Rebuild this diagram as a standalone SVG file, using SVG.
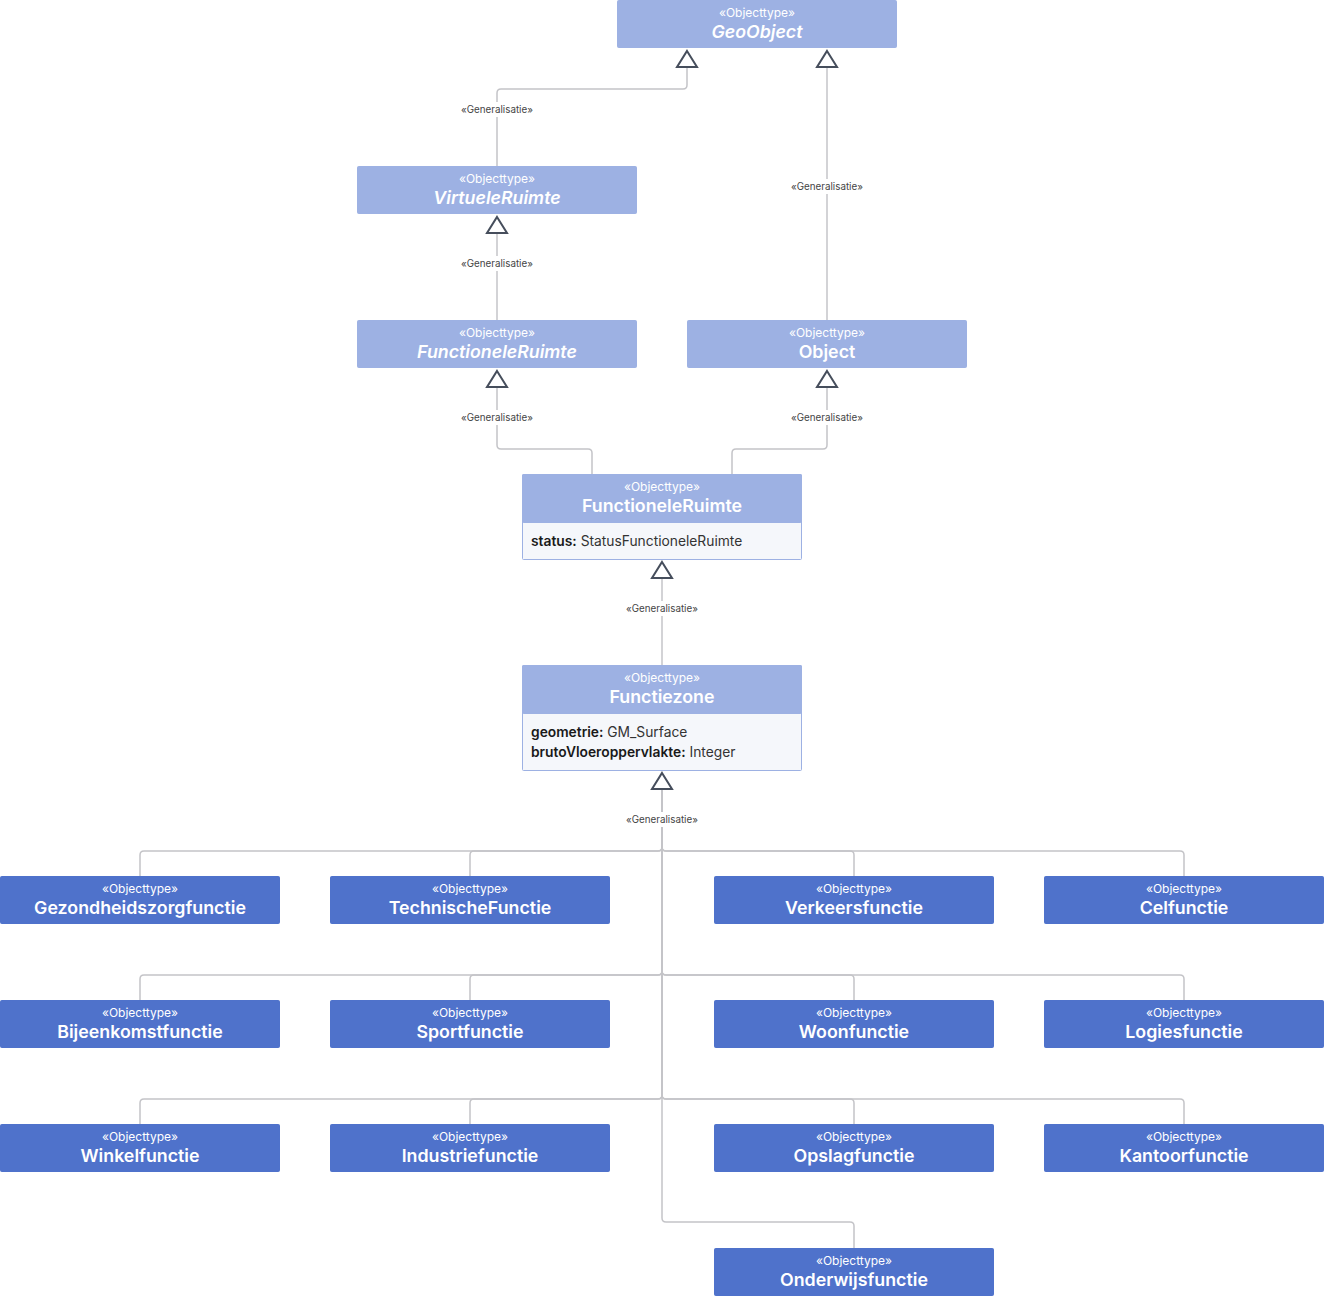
<svg xmlns="http://www.w3.org/2000/svg" width="1324" height="1297" viewBox="0 0 1324 1297">
<style>
.hl{fill:#9DB1E3;stroke:#9DB1E3;stroke-width:1}
.hd{fill:#4F72CB;stroke:#4F72CB;stroke-width:1}
.body{fill:#F5F7FB;stroke:#9DB1E3;stroke-width:1}
.st{font-family:Inter,"Liberation Sans",sans-serif;font-size:12px;fill:#fff;text-anchor:middle}
.nm{font-family:Inter,"Liberation Sans",sans-serif;font-size:17.8px;font-weight:600;fill:#fff;text-anchor:middle}
.it{font-style:italic}
.at{font-family:Inter,"Liberation Sans",sans-serif;font-size:13.8px;fill:#333}
.at tspan.b{font-weight:600;fill:#1a1a1a}
.ln{fill:none;stroke:#C4C4C8;stroke-width:1.5}
.tri{fill:#fff;stroke:#464E5C;stroke-width:2;stroke-linejoin:miter}
.lb{font-family:Inter,"Liberation Sans",sans-serif;font-size:9.8px;fill:#444;text-anchor:middle}
.lbg{fill:#fff}
</style>
<rect width="1324" height="1297" fill="#fff"/>
<g id="connectors">
  <path class="ln" d="M687,67 V85 Q687,89 683,89 H501 Q497,89 497,93 V166"/>
  <path class="ln" d="M827,67 V320"/>
  <path class="ln" d="M497,233 V320"/>
  <path class="ln" d="M497,387 V445 Q497,449 501,449 H588 Q592,449 592,453 V474"/>
  <path class="ln" d="M827,387 V445 Q827,449 823,449 H736 Q732,449 732,453 V474"/>
  <path class="ln" d="M662,578 V665"/>
  <path class="ln" d="M662,789 V847 Q662,851 658,851 H144 Q140,851 140,855 V876"/>
  <path class="ln" d="M662,789 V847 Q662,851 658,851 H474 Q470,851 470,855 V876"/>
  <path class="ln" d="M662,789 V847 Q662,851 666,851 H850 Q854,851 854,855 V876"/>
  <path class="ln" d="M662,789 V847 Q662,851 666,851 H1180 Q1184,851 1184,855 V876"/>
  <path class="ln" d="M662,789 V971 Q662,975 658,975 H144 Q140,975 140,979 V1000"/>
  <path class="ln" d="M662,789 V971 Q662,975 658,975 H474 Q470,975 470,979 V1000"/>
  <path class="ln" d="M662,789 V971 Q662,975 666,975 H850 Q854,975 854,979 V1000"/>
  <path class="ln" d="M662,789 V971 Q662,975 666,975 H1180 Q1184,975 1184,979 V1000"/>
  <path class="ln" d="M662,789 V1095 Q662,1099 658,1099 H144 Q140,1099 140,1103 V1124"/>
  <path class="ln" d="M662,789 V1095 Q662,1099 658,1099 H474 Q470,1099 470,1103 V1124"/>
  <path class="ln" d="M662,789 V1095 Q662,1099 666,1099 H850 Q854,1099 854,1103 V1124"/>
  <path class="ln" d="M662,789 V1095 Q662,1099 666,1099 H1180 Q1184,1099 1184,1103 V1124"/>
  <path class="ln" d="M662,789 V1218 Q662,1222 666,1222 H850 Q854,1222 854,1226 V1248"/>
  <path class="tri" d="M687,51 L697,67 L677,67 Z"/>
  <path class="tri" d="M827,51 L837,67 L817,67 Z"/>
  <path class="tri" d="M497,217 L507,233 L487,233 Z"/>
  <path class="tri" d="M497,371 L507,387 L487,387 Z"/>
  <path class="tri" d="M827,371 L837,387 L817,387 Z"/>
  <path class="tri" d="M662,562 L672,578 L652,578 Z"/>
  <path class="tri" d="M662,773 L672,789 L652,789 Z"/>
  <rect class="lbg" x="457" y="102" width="80" height="15"/>
  <text class="lb" x="497" y="113">«Generalisatie»</text>
  <rect class="lbg" x="787" y="179" width="80" height="15"/>
  <text class="lb" x="827" y="190">«Generalisatie»</text>
  <rect class="lbg" x="457" y="256" width="80" height="15"/>
  <text class="lb" x="497" y="267">«Generalisatie»</text>
  <rect class="lbg" x="457" y="410" width="80" height="15"/>
  <text class="lb" x="497" y="421">«Generalisatie»</text>
  <rect class="lbg" x="787" y="410" width="80" height="15"/>
  <text class="lb" x="827" y="421">«Generalisatie»</text>
  <rect class="lbg" x="622" y="601" width="80" height="15"/>
  <text class="lb" x="662" y="612">«Generalisatie»</text>
  <rect class="lbg" x="622" y="812" width="80" height="15"/>
  <text class="lb" x="662" y="823">«Generalisatie»</text>
</g>
<g id="GeoObject">
  <rect class="hl" x="617.5" y="0.5" width="279" height="47" rx="1"/>
  <text class="st" x="757" y="17">«Objecttype»</text>
  <text class="nm it" x="757" y="38">GeoObject</text>
</g>
<g id="VirtueleRuimte">
  <rect class="hl" x="357.5" y="166.5" width="279" height="47" rx="1"/>
  <text class="st" x="497" y="183">«Objecttype»</text>
  <text class="nm it" x="497" y="204">VirtueleRuimte</text>
</g>
<g id="FunctioneleRuimteAbstract">
  <rect class="hl" x="357.5" y="320.5" width="279" height="47" rx="1"/>
  <text class="st" x="497" y="337">«Objecttype»</text>
  <text class="nm it" x="497" y="358">FunctioneleRuimte</text>
</g>
<g id="Object">
  <rect class="hl" x="687.5" y="320.5" width="279" height="47" rx="1"/>
  <text class="st" x="827" y="337">«Objecttype»</text>
  <text class="nm" x="827" y="358">Object</text>
</g>
<g id="FunctioneleRuimte">
  <rect class="body" x="522.5" y="474.5" width="279" height="85" rx="1"/>
  <rect class="hl" x="522.5" y="474.5" width="279" height="48" rx="1"/>
  <text class="st" x="662" y="491">«Objecttype»</text>
  <text class="nm" x="662" y="512">FunctioneleRuimte</text>
  <text class="at" x="531" y="546"><tspan class="b">status:</tspan> StatusFunctioneleRuimte</text>
</g>
<g id="Functiezone">
  <rect class="body" x="522.5" y="665.5" width="279" height="105" rx="1"/>
  <rect class="hl" x="522.5" y="665.5" width="279" height="48" rx="1"/>
  <text class="st" x="662" y="682">«Objecttype»</text>
  <text class="nm" x="662" y="703">Functiezone</text>
  <text class="at" x="531" y="737"><tspan class="b">geometrie:</tspan> GM_Surface</text>
  <text class="at" x="531" y="757"><tspan class="b">brutoVloeroppervlakte:</tspan> Integer</text>
</g>
<g id="Gezondheidszorgfunctie">
  <rect class="hd" x="0.5" y="876.5" width="279" height="47" rx="1"/>
  <text class="st" x="140" y="893">«Objecttype»</text>
  <text class="nm" x="140" y="914">Gezondheidszorgfunctie</text>
</g>
<g id="TechnischeFunctie">
  <rect class="hd" x="330.5" y="876.5" width="279" height="47" rx="1"/>
  <text class="st" x="470" y="893">«Objecttype»</text>
  <text class="nm" x="470" y="914">TechnischeFunctie</text>
</g>
<g id="Verkeersfunctie">
  <rect class="hd" x="714.5" y="876.5" width="279" height="47" rx="1"/>
  <text class="st" x="854" y="893">«Objecttype»</text>
  <text class="nm" x="854" y="914">Verkeersfunctie</text>
</g>
<g id="Celfunctie">
  <rect class="hd" x="1044.5" y="876.5" width="279" height="47" rx="1"/>
  <text class="st" x="1184" y="893">«Objecttype»</text>
  <text class="nm" x="1184" y="914">Celfunctie</text>
</g>
<g id="Bijeenkomstfunctie">
  <rect class="hd" x="0.5" y="1000.5" width="279" height="47" rx="1"/>
  <text class="st" x="140" y="1017">«Objecttype»</text>
  <text class="nm" x="140" y="1038">Bijeenkomstfunctie</text>
</g>
<g id="Sportfunctie">
  <rect class="hd" x="330.5" y="1000.5" width="279" height="47" rx="1"/>
  <text class="st" x="470" y="1017">«Objecttype»</text>
  <text class="nm" x="470" y="1038">Sportfunctie</text>
</g>
<g id="Woonfunctie">
  <rect class="hd" x="714.5" y="1000.5" width="279" height="47" rx="1"/>
  <text class="st" x="854" y="1017">«Objecttype»</text>
  <text class="nm" x="854" y="1038">Woonfunctie</text>
</g>
<g id="Logiesfunctie">
  <rect class="hd" x="1044.5" y="1000.5" width="279" height="47" rx="1"/>
  <text class="st" x="1184" y="1017">«Objecttype»</text>
  <text class="nm" x="1184" y="1038">Logiesfunctie</text>
</g>
<g id="Winkelfunctie">
  <rect class="hd" x="0.5" y="1124.5" width="279" height="47" rx="1"/>
  <text class="st" x="140" y="1141">«Objecttype»</text>
  <text class="nm" x="140" y="1162">Winkelfunctie</text>
</g>
<g id="Industriefunctie">
  <rect class="hd" x="330.5" y="1124.5" width="279" height="47" rx="1"/>
  <text class="st" x="470" y="1141">«Objecttype»</text>
  <text class="nm" x="470" y="1162">Industriefunctie</text>
</g>
<g id="Opslagfunctie">
  <rect class="hd" x="714.5" y="1124.5" width="279" height="47" rx="1"/>
  <text class="st" x="854" y="1141">«Objecttype»</text>
  <text class="nm" x="854" y="1162">Opslagfunctie</text>
</g>
<g id="Kantoorfunctie">
  <rect class="hd" x="1044.5" y="1124.5" width="279" height="47" rx="1"/>
  <text class="st" x="1184" y="1141">«Objecttype»</text>
  <text class="nm" x="1184" y="1162">Kantoorfunctie</text>
</g>
<g id="Onderwijsfunctie">
  <rect class="hd" x="714.5" y="1248.5" width="279" height="47" rx="1"/>
  <text class="st" x="854" y="1265">«Objecttype»</text>
  <text class="nm" x="854" y="1286">Onderwijsfunctie</text>
</g>
</svg>
